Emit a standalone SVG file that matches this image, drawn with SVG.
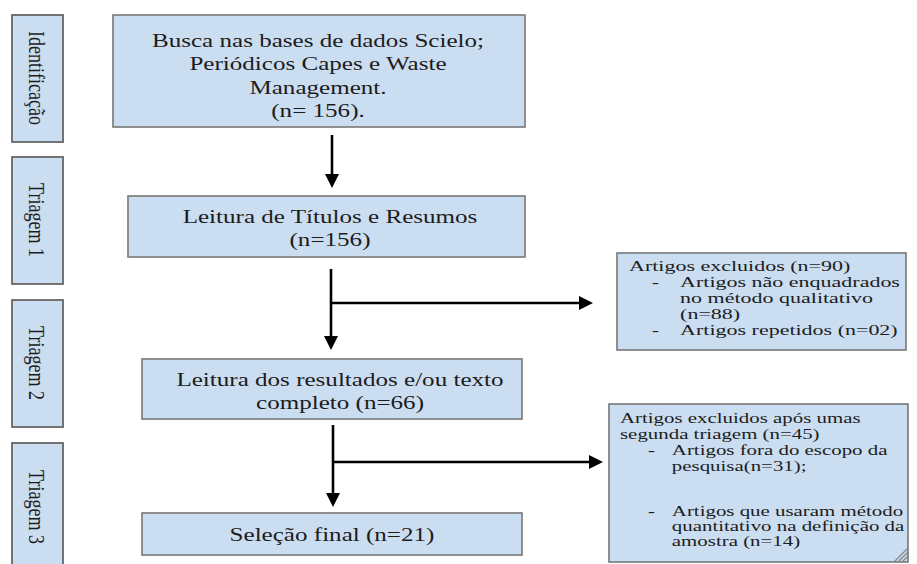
<svg xmlns="http://www.w3.org/2000/svg" width="917" height="564" viewBox="0 0 917 564">
<style>
.box{fill:#cbddf0;stroke:#777;stroke-width:1.6}
.lab{fill:#cbddf0;stroke:#666;stroke-width:1.8}
.t{font-family:"Liberation Serif","Times New Roman",serif;fill:#1c1c1c}
.m{font-size:19px;text-anchor:middle}
.r{font-size:15.5px}
.r2{font-size:14.5px}
.v{font-size:18px;text-anchor:middle;dominant-baseline:central}
.c{stroke:#000;stroke-width:2.6;fill:none}
.g{stroke:#888;stroke-width:1.2}
</style>
<defs>
<marker id="ah" markerUnits="userSpaceOnUse" markerWidth="15" markerHeight="14" refX="1" refY="7" orient="auto">
<path d="M0,0 L14,7 L0,14 z" fill="#000"/>
</marker>
</defs>
<rect width="917" height="564" fill="#fff"/>

<g id="lab-identificacao">
<rect class="lab" x="12" y="15" width="51" height="127"/>
<text class="t v" transform="translate(37,78) rotate(90) scale(1,1.25)">Identificação</text>
</g>
<g id="lab-triagem1">
<rect class="lab" x="12" y="157" width="51" height="127"/>
<text class="t v" transform="translate(37,220) rotate(90) scale(1,1.25)">Triagem 1</text>
</g>
<g id="lab-triagem2">
<rect class="lab" x="12" y="300" width="51" height="127"/>
<text class="t v" transform="translate(37,363) rotate(90) scale(1,1.25)">Triagem 2</text>
</g>
<g id="lab-triagem3">
<rect class="lab" x="12" y="443" width="51" height="130"/>
<text class="t v" transform="translate(37,507) rotate(90) scale(1,1.25)">Triagem 3</text>
</g>

<g id="busca">
<rect class="box" x="113" y="15" width="412" height="112"/>
<g class="t m" transform="translate(318,0) scale(1.32,1)">
<text x="0" y="47">Busca nas bases de dados Scielo;</text>
<text x="0" y="70.5">Periódicos Capes e Waste</text>
<text x="0" y="94">Management.</text>
<text x="0" y="117">(n= 156).</text>
</g>
</g>

<g id="leitura-titulos">
<rect class="box" x="128" y="196" width="397" height="61"/>
<g class="t m" transform="translate(330,0) scale(1.32,1)">
<text x="0" y="223">Leitura de Títulos e Resumos</text>
<text x="0" y="246">(n=156)</text>
</g>
</g>

<g id="leitura-resultados">
<rect class="box" x="142" y="359" width="380" height="60"/>
<g class="t m" transform="translate(340,0) scale(1.32,1)">
<text x="0" y="386">Leitura dos resultados e/ou texto</text>
<text x="0" y="409">completo (n=66)</text>
</g>
</g>

<g id="selecao-final">
<rect class="box" x="142" y="513" width="380" height="42"/>
<g class="t m" transform="translate(332,0) scale(1.32,1)">
<text x="0" y="541">Seleção final (n=21)</text>
</g>
</g>

<g id="excluidos-1">
<rect class="box" x="617" y="253" width="289" height="97"/>
<g class="t r" transform="translate(629,0) scale(1.42,1)">
<text x="0" y="271">Artigos excluidos (n=90)</text>
<text x="16" y="287">-</text>
<text x="36" y="287">Artigos não enquadrados</text>
<text x="36" y="303">no método qualitativo</text>
<text x="36" y="319">(n=88)</text>
<text x="16" y="335">-</text>
<text x="36" y="335">Artigos repetidos (n=02)</text>
</g>
</g>

<g id="excluidos-2">
<rect class="box" x="609" y="404" width="299" height="158"/>
<g class="t r2" transform="translate(620,0) scale(1.44,1)">
<text x="0" y="423">Artigos excluidos após umas</text>
<text x="0" y="439">segunda triagem (n=45)</text>
<text x="19.5" y="455">-</text>
<text x="36" y="455">Artigos fora do escopo da</text>
<text x="36" y="471">pesquisa(n=31);</text>
<text x="19.5" y="516">-</text>
<text x="36" y="516">Artigos que usaram método</text>
<text x="36" y="531">quantitativo na definição da</text>
<text x="36" y="546">amostra (n=14)</text>
</g>
<g class="g">
<line x1="894" y1="562" x2="908" y2="548"/>
<line x1="898" y1="562" x2="908" y2="552"/>
<line x1="902" y1="562" x2="908" y2="556"/>
</g>
</g>

<g id="connectors">
<path class="c" d="M332,135 V175" marker-end="url(#ah)"/>
<path class="c" d="M331,269 V337" marker-end="url(#ah)"/>
<path class="c" d="M331,303 H580" marker-end="url(#ah)"/>
<path class="c" d="M333,425 V494" marker-end="url(#ah)"/>
<path class="c" d="M333,462 H590" marker-end="url(#ah)"/>
</g>
</svg>
